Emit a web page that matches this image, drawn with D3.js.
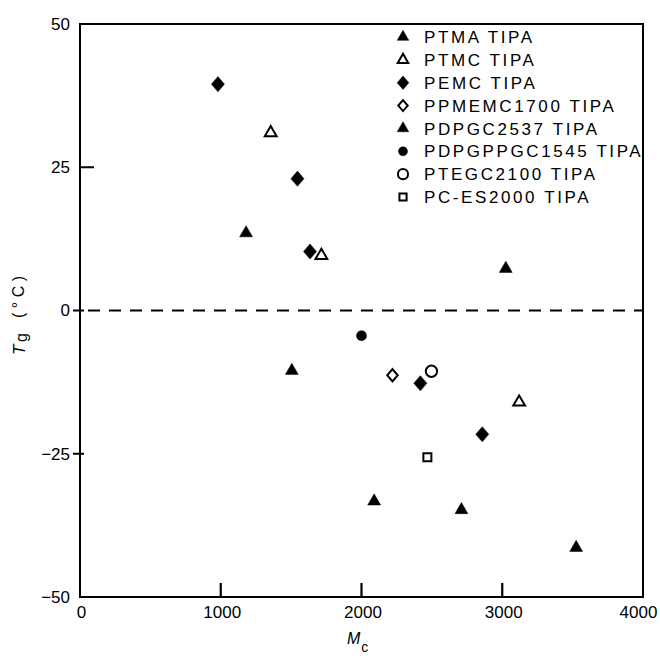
<!DOCTYPE html>
<html>
<head>
<meta charset="utf-8">
<script src="https://cdn.jsdelivr.net/npm/d3@7"></script>
<style>
  body { margin: 0; background: #fff; }
  text { font-family: 'Liberation Sans', Arial, sans-serif; fill: #000; }
</style>
</head>
<body>
<script>
// values: [Mc, Tg]
const seriesNames = [
  'PTMA TIPA', 'PTMC TIPA', 'PEMC TIPA', 'PPMEMC1700 TIPA',
  'PDPGC2537 TIPA', 'PDPGPPGC1545 TIPA', 'PTEGC2100 TIPA', 'PC-ES2000 TIPA',
];
const ptma = [[1180, 13.5], [1505, -10.5], [2090, -33.3], [2710, -34.8], [3525, -41.4]];
const ptmc = [[1355, 31], [1715, 9.6], [3120, -16]];
const pemc = [[980, 39.5], [1545, 23], [1634, 10.3], [2418, -12.7], [2858, -21.6]];
const ppmemc1700 = [[2220, -11.3]];
const pdpgc2537 = [[3025, 7.3]];
const pdpgppgc1545 = [[2000, -4.4]];
const ptegc2100 = [[2497, -10.6]];
const pces2000 = [[2468, -25.6]];

const xTicks = [0, 1000, 2000, 3000, 4000];
const yTicks = [-50, -25, 0, 25, 50];

const seriesValues = [ptma, ptmc, pemc, ppmemc1700, pdpgc2537, pdpgppgc1545, ptegc2100, pces2000];

// diamond a bit wider than d3's own
const wideDiamond = {
  draw(context, size) {
    const h = Math.sqrt(size / 0.86) / 2 * 1.08;
    const w = h * 0.86;
    context.moveTo(0, -h);
    context.lineTo(w, 0);
    context.lineTo(0, h);
    context.lineTo(-w, 0);
    context.closePath();
  },
};

// marker style per series
const markerStyle = [
  { type: d3.symbolTriangle, size: 72, open: false },
  { type: d3.symbolTriangle, size: 60, open: true },
  { type: wideDiamond, size: 170, open: false },
  { type: wideDiamond, size: 110, open: true },
  { type: d3.symbolTriangle, size: 72, open: false },
  { type: d3.symbolCircle, size: 80, open: false },
  { type: d3.symbolCircle, size: 100, open: true },
  { type: d3.symbolSquare, size: 64, open: true },
];

function symbolPath(st, scale) {
  return d3.symbol().type(st.type).size(st.size * scale)();
}

const width = 660;
const height = 656;
const plotLeft = 80;
const plotRight = 643;
const plotTop = 24;
const plotBottom = 597;

const x = d3.scaleLinear().domain([0, 4000]).range([plotLeft, plotRight]);
const y = d3.scaleLinear().domain([-50, 50]).range([plotBottom, plotTop]);

const svg = d3.select('body').append('svg')
  .attr('width', width)
  .attr('height', height);

// frame
svg.append('rect')
  .attr('x', plotLeft)
  .attr('y', plotTop)
  .attr('width', plotRight - plotLeft)
  .attr('height', plotBottom - plotTop)
  .attr('fill', 'none')
  .attr('stroke', '#000')
  .attr('stroke-width', 2);

// tick labels
const xAxis = svg.append('g')
  .attr('transform', `translate(0,${plotBottom})`)
  .call(d3.axisBottom(x).tickValues(xTicks).tickSize(0).tickFormat(d3.format('d')));
const yAxis = svg.append('g')
  .attr('transform', `translate(${plotLeft},0)`)
  .call(d3.axisLeft(y).tickValues(yTicks).tickSize(0)
    .tickFormat(d => (d < 0 ? `\u2212${-d}` : `${d}`)));

[xAxis, yAxis].forEach((g) => {
  g.select('.domain').remove();
  g.selectAll('line').remove();
  g.selectAll('text')
    .style('font-family', "'Liberation Sans', Arial, sans-serif")
    .style('font-size', '17px')
    .attr('fill', '#000');
});
xAxis.selectAll('text').attr('dy', '0.32em').attr('y', 16)
  .attr('dx', d => (d === 4000 ? -5 : 1));
yAxis.selectAll('text').attr('x', -10);

// inward tick marks
const tickPath = d3.path();
xTicks.slice(1, -1).forEach((d) => {
  tickPath.moveTo(x(d), plotBottom);
  tickPath.lineTo(x(d), plotBottom - 14);
});
yTicks.slice(1, -1).forEach((d) => {
  if (d === 25) {
    tickPath.moveTo(plotLeft, y(d));
    tickPath.lineTo(plotLeft + 14, y(d));
  } else {
    tickPath.moveTo(plotLeft - 7, y(d));
    tickPath.lineTo(plotLeft + 4, y(d));
  }
});
svg.append('path')
  .attr('d', tickPath.toString())
  .attr('fill', 'none')
  .attr('stroke', '#000')
  .attr('stroke-width', 2.2);

// dashed zero line
svg.append('line')
  .attr('x1', x(0) + 8)
  .attr('x2', x(4000))
  .attr('y1', y(0))
  .attr('y2', y(0))
  .attr('stroke', '#000')
  .attr('stroke-width', 1.8)
  .attr('stroke-dasharray', '12,9');

// points
seriesValues.forEach((vals, i) => {
  const st = markerStyle[i];
  svg.append('g')
    .selectAll('path')
    .data(vals)
    .enter()
    .append('path')
    .attr('transform', d => `translate(${x(d[0])},${y(d[1])})`)
    .attr('d', symbolPath(st, 1))
    .attr('fill', st.open ? '#fff' : '#000')
    .attr('stroke', '#000')
    .attr('stroke-width', st.open ? 2 : 0.5);
});

// legend
const ly = d3.scalePoint().domain(seriesNames).range([37, 197]);
const legend = svg.append('g');
seriesNames.forEach((name, i) => {
  const st = markerStyle[i];
  legend.append('path')
    .attr('transform', `translate(403,${ly(name)})`)
    .attr('d', symbolPath(st, 0.8))
    .attr('fill', st.open ? '#fff' : '#000')
    .attr('stroke', '#000')
    .attr('stroke-width', st.open ? 2 : 0.5);
  legend.append('text')
    .attr('x', 424)
    .attr('y', ly(name))
    .attr('dy', '0.36em')
    .style('font-size', '17px')
    .style('letter-spacing', '2.6px')
    .text(name);
});

// axis titles
const yTitle = svg.append('g')
  .attr('transform', 'translate(25,0) rotate(-90)');
yTitle.append('text')
  .attr('x', -355)
  .style('font-size', '17px')
  .style('font-style', 'italic')
  .text('T');
yTitle.append('text')
  .attr('x', -342)
  .attr('y', 2)
  .style('font-size', '16px')
  .text('g');
yTitle.append('text')
  .attr('x', -318)
  .attr('y', -1)
  .attr('textLength', 42)
  .attr('lengthAdjust', 'spacing')
  .style('font-size', '16px')
  .text('(\u00b0C)');

const xTitle = svg.append('text')
  .attr('x', 347)
  .attr('y', 644)
  .style('font-size', '16px');
xTitle.append('tspan').style('font-style', 'italic').text('M');
xTitle.append('tspan').attr('dy', 8).attr('dx', 1).style('font-size', '14px').text('c');
</script>
</body>
</html>
